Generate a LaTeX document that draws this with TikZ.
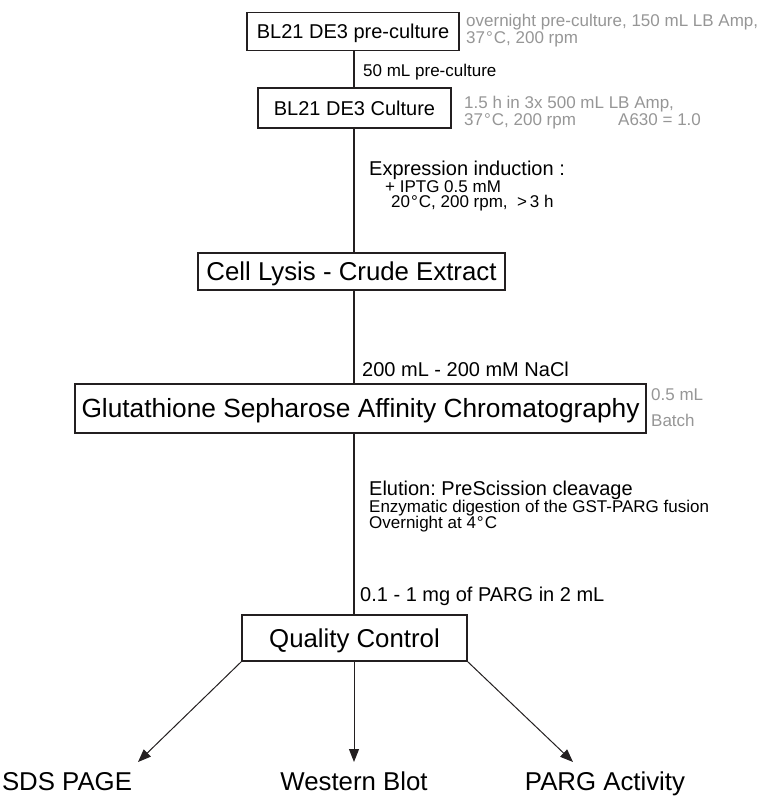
\documentclass[tikz,border=0pt]{standalone}
\usepackage{fontspec}
\setmainfont{Liberation Sans}
\usetikzlibrary{arrows.meta}
\definecolor{linec}{RGB}{35,31,32}
\definecolor{graytxt}{RGB}{150,150,150}
\newcommand\szBig{\fontsize{25.8}{30}\selectfont}
\newcommand\szGlu{\fontsize{26.3}{30}\selectfont}
\newcommand\szMid{\fontsize{20}{24}\selectfont}
\newcommand\szSm{\fontsize{17}{20}\selectfont}
\newcommand\dg{\kern1pt°\kern1pt}
\begin{document}
\frenchspacing
\begin{tikzpicture}[x=1pt,y=-1pt,
  box/.style={draw=linec, line width=1.2pt, inner sep=0pt, text depth=0pt, text=black},
  midbox/.style={box, font=\szMid, text height=14.3pt},
  bigbox/.style={box, font=\szBig, text height=18.5pt},
  glubox/.style={box, font=\szGlu, text height=18.8pt},
  lbl/.style={anchor=base west, inner sep=0pt, text=black},
  note/.style={anchor=base west, inner sep=0pt, text=graytxt, font=\szSm},
  spine/.style={draw=linec, line width=1.6pt},
  arr/.style={draw=linec, line width=1pt, -{Triangle[length=13pt,width=10pt]}},
  endlbl/.style={anchor=base, inner sep=0pt, font=\szBig, text=black}]
\useasboundingbox (0,0) rectangle (763,800);
\coordinate (sp) at (354,0);
% boxes
\node[midbox, minimum width=212pt, minimum height=38pt] (b1) at (353,31.5) {BL21 DE3 pre-culture};
\node[midbox, minimum width=193pt, minimum height=40pt] (b2) at (354.5,108) {BL21 DE3 Culture};
\node[bigbox, minimum width=307pt, minimum height=37pt] (b3) at (351.5,271.5) {Cell Lysis - Crude Extract};
\node[glubox, minimum width=571pt, minimum height=49pt] (b4) at (360.5,408.5) {Glutathione Sepharose Affinity Chromatography};
\node[bigbox, minimum width=225pt, minimum height=46pt] (b5) at (354.5,638) {Quality Control};
% side notes
\node[note] (n1a) at (466,26.5) {overnight pre-culture, 150 mL LB Amp,};
\node[note] (n1b) at (466,44) {37\dg C, 200 rpm};
\node[note] (n2a) at (464,108) {1.5 h in 3x 500 mL LB Amp,};
\node[note] (n2b) at (464,125) {37\dg C, 200 rpm};
\node[note] (n2c) at (618,125) {A630 = 1.0};
\node[note] (n4a) at (651,400) {0.5 mL};
\node[note] (n4b) at (651,426) {Batch};
% spine connectors
\draw[spine] (b1.south -| sp) -- (b2.north -| sp);
\draw[spine] (b2.south -| sp) -- (b3.north -| sp);
\draw[spine] (b3.south -| sp) -- (b4.north -| sp);
\draw[spine] (b4.south -| sp) -- (b5.north -| sp);
% connector labels
\node[lbl, font=\szSm] (l1) at (363,77) {50 mL pre-culture};
\node[lbl, font=\szMid] (l2a) at (369,175.5) {Expression induction :};
\node[lbl, font=\szSm] (l2b) at (385,192) {+ IPTG 0.5 mM};
\node[lbl, font=\szSm] (l2c) at (391,207.5) {20\dg C, 200 rpm,\ \ >\,3 h};
\node[lbl, font=\szMid] (l3) at (362,376) {200 mL - 200 mM NaCl};
\node[lbl, font=\szMid] (l4a) at (369,495) {Elution: PreScission cleavage};
\node[lbl, font=\szSm] (l4b) at (369,512.5) {Enzymatic digestion of the GST-PARG fusion};
\node[lbl, font=\szSm] (l4c) at (369,528.5) {Overnight at 4\dg C};
\node[lbl, font=\szMid] (l5) at (360,601) {0.1 - 1 mg of PARG in 2 mL};
% end labels
\node[endlbl] (e1) at (67,790) {SDS PAGE};
\node[endlbl] (e2) at (354,790) {Western Blot};
\node[endlbl] (e3) at (605,790) {PARG Activity};
\coordinate (t1) at (138,762);
\coordinate (t2) at (354,762);
\coordinate (t3) at (573,762);
\draw[arr] (b5.south west) -- (t1);
\draw[arr] (b5.south -| sp) -- (t2);
\draw[arr] (b5.south east) -- (t3);
\end{tikzpicture}
\end{document}
